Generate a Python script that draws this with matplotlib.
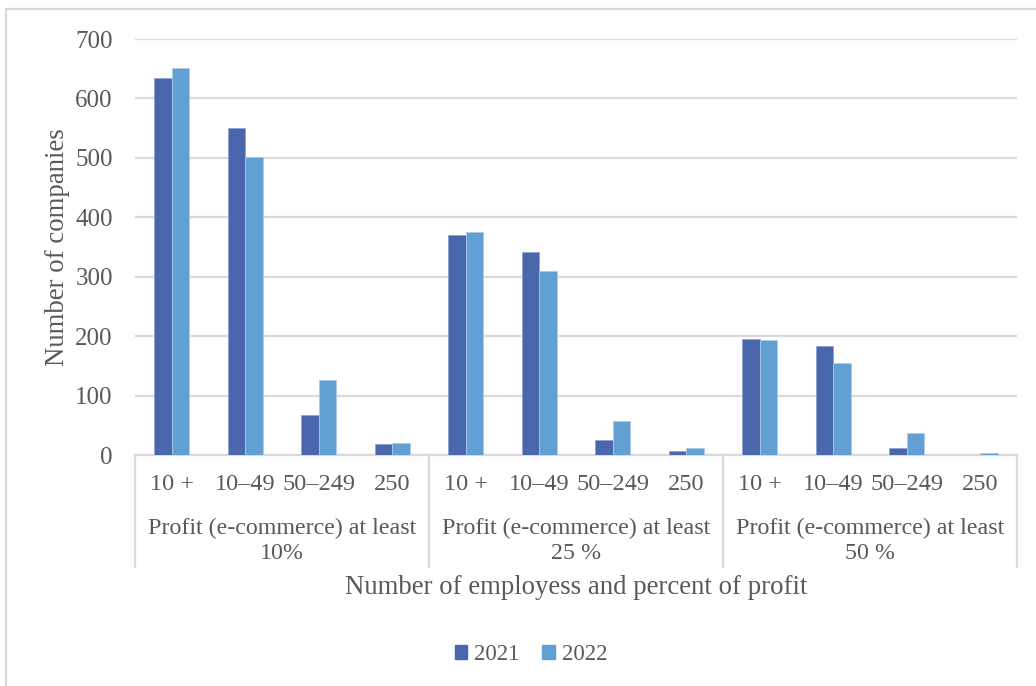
import numpy as np
import matplotlib
matplotlib.use("Agg")
import matplotlib.pyplot as plt
from matplotlib.lines import Line2D
from matplotlib.patches import Patch
import matplotlib.transforms as mtransforms

# data
sizes = ["10 +", "10\u201349", "50\u2013249", "250"]
groups = ["Profit (e-commerce) at least\n10%",
          "Profit (e-commerce) at least\n25 %",
          "Profit (e-commerce) at least\n50 %"]
v2021 = [635, 550, 67, 18, 371, 341, 25, 6, 195, 183, 12, 0]
v2022 = [652, 502, 126, 21, 376, 310, 57, 11, 194, 154, 37, 3]
years = ["2021", "2022"]

c21 = "#4A66AC"
c22 = "#629FD3"
txt = "#595959"
grid = "#D9D9D9"

plt.rcParams["font.family"] = ["Liberation Serif", "DejaVu Serif"]

W, H = 1036, 686
fig = plt.figure(figsize=(W / 100, H / 100), dpi=100)
x0, x1, y0, y1 = 135, 1017, 455, 39
ax = fig.add_axes([x0 / W, 1 - y0 / H, (x1 - x0) / W, (y0 - y1) / H])

x = np.arange(len(v2021))
bw = 0.24
ax.bar(x - bw / 2, v2021, bw, color=c21, edgecolor="#8FA3D3", linewidth=0.6, zorder=3)
ax.bar(x + bw / 2, v2022, bw, color=c22, edgecolor="#A9CBEA", linewidth=0.6, zorder=3)

ax.set_xlim(-0.5, len(x) - 0.5)
ax.set_ylim(0, 700)
ax.set_yticks(range(0, 701, 100))
ax.yaxis.grid(True, color=grid, linewidth=1.6, zorder=0)
ax.set_axisbelow(True)
for s in ["top", "right", "left"]:
    ax.spines[s].set_visible(False)
ax.spines["bottom"].set_color(grid)
ax.spines["bottom"].set_linewidth(1.6)
ax.tick_params(axis="y", length=0, pad=16, labelsize=18, labelcolor=txt)
ax.set_xticks(x)
ax.set_xticklabels(sizes * len(groups))
ax.tick_params(axis="x", length=0, pad=13.5, labelsize=17.5, labelcolor=txt)

trans = mtransforms.blended_transform_factory(ax.transData, ax.transAxes)
ybot = -(567 - y0) / (y0 - y1)
for sep in [-0.5, 3.5, 7.5, 11.5]:
    ax.add_line(Line2D([sep, sep], [0, ybot], transform=trans, color=grid,
                       linewidth=1.6, clip_on=False))
for i, g in enumerate(groups):
    ax.text(i * 4 + 1.5, -(541 - y0) / (y0 - y1), g, transform=trans,
            ha="center", va="center", fontsize=17.3, color=txt, linespacing=1.2)

fig.text((x0 + x1) / 2 / W - 0.0, 1 - 587 / H, "Number of employess and percent of profit",
         ha="center", va="center", fontsize=19.3, color=txt)
fig.text(57 / W, 1 - 247 / H, "Number of companies", rotation=90,
         ha="center", va="center", fontsize=19.3, color=txt)

handles = [Patch(color=c21), Patch(color=c22)]
fig.legend(handles, years, loc="center", bbox_to_anchor=(531 / W, 1 - 655 / H),
           ncol=2, frameon=False, fontsize=16.5, labelcolor=txt,
           handlelength=0.55, handleheight=0.55, handletextpad=0.3, columnspacing=1.0)

# outer chart border (top and left edges visible)
fig.add_artist(Line2D([6 / W, 1], [1 - 9 / H, 1 - 9 / H], color=grid, linewidth=1.6))
fig.add_artist(Line2D([6 / W, 6 / W], [0, 1 - 9 / H], color=grid, linewidth=1.6))

fig.savefig("out.png", dpi=100)
